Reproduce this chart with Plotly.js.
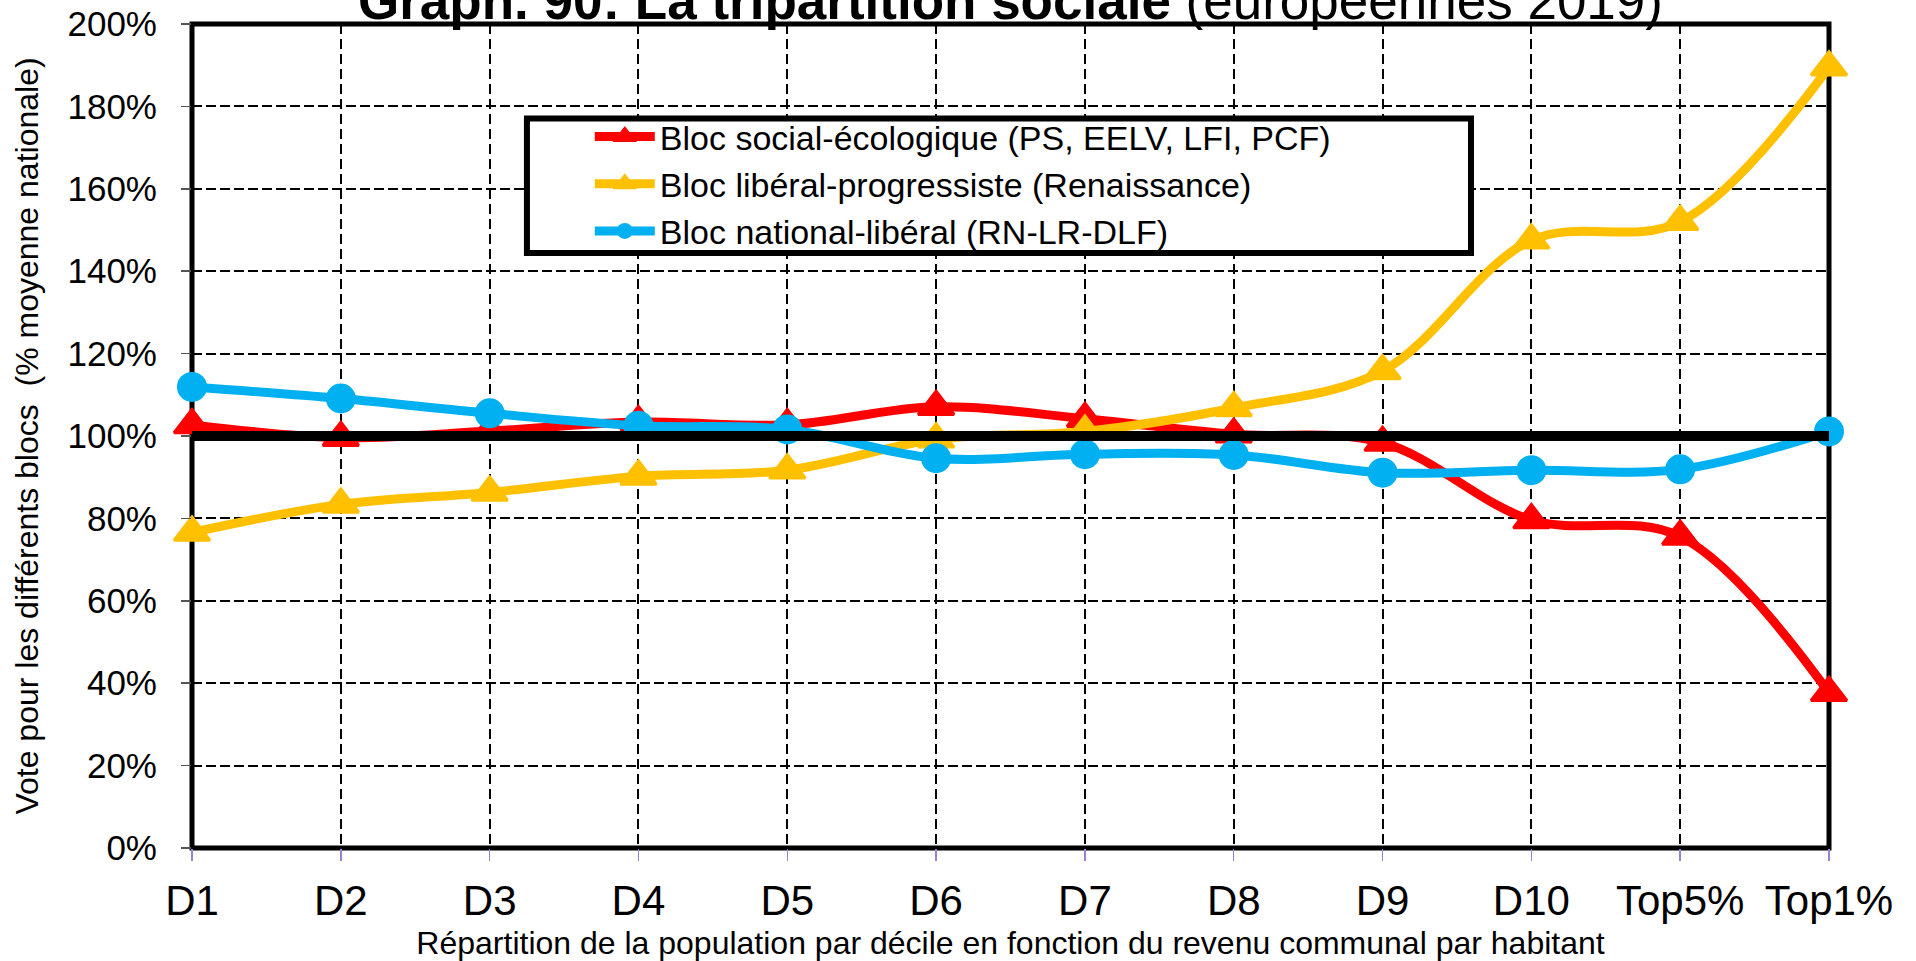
<!DOCTYPE html>
<html>
<head>
<meta charset="utf-8">
<script src="https://cdn.plot.ly/plotly-3.0.1.min.js"></script>
<style>
html,body{margin:0;padding:0;background:#fff;}
#chart{width:1916px;height:961px;}
</style>
</head>
<body>
<div id="chart"></div>
<script>
// ---- data ----
const categories = ['D1','D2','D3','D4','D5','D6','D7','D8','D9','D10','Top5%','Top1%'];
const blocSocialEcologique   = [102.7, 99.6, 101.2, 103.4, 102.7, 107.1, 104.2, 100.4, 98.4, 79.6, 75.6, 37.7];
const blocLiberalProgressiste = [76.6, 83.4, 86.3, 90.2, 91.7, 99.2, 101.1, 106.8, 115.8, 147.5, 152.0, 189.5];
const blocNationalLiberal    = [111.9, 109.1, 105.5, 102.5, 101.6, 94.6, 95.6, 95.4, 91.1, 91.7, 91.9, 101.1];
const moyenneNationale       = [100, 100, 100, 100, 100, 100, 100, 100, 100, 100, 100, 100];
const seriesNames = [
  'Bloc social-écologique (PS, EELV, LFI, PCF)',
  'Bloc libéral-progressiste (Renaissance)',
  'Bloc national-libéral (RN-LR-DLF)'
];
const titleText = '<b>Graph. 90: La tripartition sociale</b> (européennes 2019)';
const xTitle = 'Répartition de la population par décile en fonction du revenu communal par habitant';
const yTitle = 'Vote pour les différents blocs\u00a0 (% moyenne nationale)';

const FONT = 'Liberation Sans, Arial, sans-serif';
const RED = '#FF0000', YELLOW = '#FFC000', BLUE = '#00B0F0';

function lineTrace(name, y, color, symbol, size) {
  return {
    type: 'scatter', mode: 'lines+markers', name: name,
    x: categories, y: y,
    line: {color: color, width: 9, shape: 'spline', smoothing: 1},
    marker: {symbol: symbol, size: size, color: color, line: {color: color, width: symbol === 'circle' ? 0 : 3}},
    cliponaxis: false
  };
}

const traces = [
  lineTrace(seriesNames[0], blocSocialEcologique, RED, 'triangle-up', 31),
  lineTrace(seriesNames[1], blocLiberalProgressiste, YELLOW, 'triangle-up', 31),
  lineTrace(seriesNames[2], blocNationalLiberal, BLUE, 'circle', 30),
  {
    type: 'scatter', mode: 'lines', name: 'Moyenne nationale', showlegend: false,
    x: categories, y: moyenneNationale,
    line: {color: '#000', width: 10}, hoverinfo: 'skip', cliponaxis: true
  }
];

const layout = {
  width: 1916, height: 961,
  margin: {l: 192, r: 87, t: 24, b: 113, pad: 0},
  paper_bgcolor: '#fff', plot_bgcolor: '#fff',
  font: {family: FONT, color: '#000'},
  showlegend: true,
  title: {
    text: titleText,
    font: {family: FONT, size: 53, color: '#000'},
    x: 0.5, xref: 'paper', xanchor: 'center',
    y: 1 - 18.5 / 961, yref: 'container', yanchor: 'bottom'
  },
  xaxis: {
    type: 'category', range: [0, 11], automargin: false,
    showgrid: true, gridcolor: '#000', gridwidth: 2, griddash: '10px,5px',
    zeroline: false, showline: false,
    ticks: 'outside', ticklen: 12, tickwidth: 1.5, tickcolor: '#9e80d0',
    tickfont: {family: FONT, size: 42, color: '#000'},
    ticklabelstandoff: 4,
    title: {text: xTitle, font: {family: FONT, size: 32, color: '#000'}, standoff: 16}
  },
  yaxis: {
    range: [0, 200], tick0: 0, dtick: 20, ticksuffix: '%', automargin: false,
    showgrid: true, gridcolor: '#000', gridwidth: 2, griddash: '10px,4px',
    zeroline: false, showline: false,
    ticks: 'outside', ticklen: 10, tickwidth: 1.5, tickcolor: '#555',
    tickfont: {family: FONT, size: 35, color: '#000'},
    ticklabelstandoff: 17,
    title: {text: yTitle, font: {family: FONT, size: 32, color: '#000'}, standoff: 19}
  },
  legend: {
    x: 0.243, y: 0.8982, xanchor: 'left', yanchor: 'top',
    bgcolor: 'rgba(0,0,0,0)', borderwidth: 0,
    font: {family: FONT, size: 34, color: '#000'},
    itemwidth: 60, tracegroupgap: 0
  },
  shapes: [
    {type: 'rect', xref: 'paper', yref: 'paper', x0: 0, x1: 1, y0: 0, y1: 1,
     line: {color: '#000', width: 5}, fillcolor: 'rgba(0,0,0,0)', layer: 'between'},
    {type: 'rect', xref: 'paper', yref: 'paper', x0: 0.2046, x1: 0.7813, y0: 0.7221, y1: 0.8853,
     line: {color: '#000', width: 6}, fillcolor: '#fff', layer: 'above'}
  ]
};

Plotly.newPlot('chart', traces, layout, {displayModeBar: false, staticPlot: true});
</script>
</body>
</html>
